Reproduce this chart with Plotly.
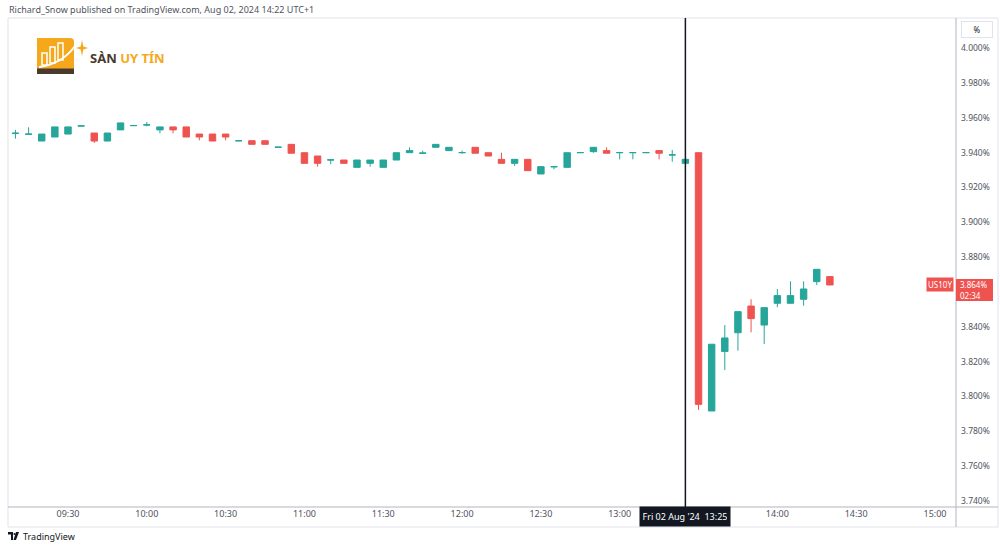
import plotly.graph_objects as go

# ---------------- data ----------------
times = ["09:10","09:15","09:20","09:25","09:30","09:35","09:40","09:45","09:50","09:55",
         "10:00","10:05","10:10","10:15","10:20","10:25","10:30","10:35","10:40","10:45",
         "10:50","10:55","11:00","11:05","11:10","11:15","11:20","11:25","11:30","11:35",
         "11:40","11:45","11:50","11:55","12:00","12:05","12:10","12:15","12:20","12:25",
         "12:30","12:35","12:40","12:45","12:50","12:55","13:00","13:05","13:10","13:15",
         "13:20","13:25","13:30","13:35","13:40","13:45","13:50","13:55","14:00","14:05",
         "14:10","14:15","14:20"]
opens = [3.9510,3.9505,3.9466,3.9489,3.9506,3.9552,3.9512,3.9466,3.9530,3.9554,
         3.9558,3.9530,3.9547,3.9547,3.9506,3.9506,3.9506,3.9467,3.9468,3.9468,
         3.9430,3.9447,3.9399,3.9380,3.9357,3.9357,3.9315,3.9338,3.9315,3.9357,
         3.9399,3.9396,3.9430,3.9411,3.9399,3.9430,3.9399,3.9361,3.9338,3.9361,
         3.9277,3.9318,3.9315,3.9399,3.9405,3.9411,3.9399,3.9399,3.9399,3.9411,
         3.9386,3.9338,3.9399,3.7917,3.8259,3.8366,3.8519,3.8410,3.8535,3.8535,
         3.8558,3.8659,3.8688]
highs = [3.9530,3.9545,3.9506,3.9547,3.9547,3.9553,3.9512,3.9512,3.9570,3.9555,
         3.9575,3.9547,3.9547,3.9547,3.9506,3.9506,3.9506,3.9468,3.9468,3.9468,
         3.9431,3.9447,3.9399,3.9380,3.9362,3.9357,3.9357,3.9357,3.9357,3.9399,
         3.9430,3.9411,3.9447,3.9430,3.9411,3.9430,3.9399,3.9399,3.9361,3.9361,
         3.9319,3.9319,3.9399,3.9400,3.9430,3.9430,3.9400,3.9400,3.9400,3.9411,
         3.9415,3.9361,3.9399,3.8300,3.8410,3.8487,3.8558,3.8510,3.8617,3.8661,
         3.8661,3.8730,3.8688]
lows = [3.9480,3.9505,3.9466,3.9489,3.9506,3.9552,3.9455,3.9466,3.9530,3.9554,
        3.9550,3.9510,3.9510,3.9489,3.9470,3.9466,3.9470,3.9467,3.9447,3.9447,
        3.9430,3.9396,3.9338,3.9319,3.9333,3.9338,3.9315,3.9319,3.9315,3.9357,
        3.9399,3.9396,3.9430,3.9411,3.9393,3.9396,3.9380,3.9338,3.9323,3.9296,
        3.9277,3.9304,3.9315,3.9399,3.9399,3.9396,3.9361,3.9361,3.9399,3.9361,
        3.9347,3.9338,3.7923,3.7917,3.8152,3.8263,3.8368,3.8301,3.8512,3.8535,
        3.8521,3.8640,3.8640]
closes = [3.9511,3.9506,3.9506,3.9547,3.9547,3.9553,3.9466,3.9512,3.9570,3.9555,
          3.9559,3.9547,3.9530,3.9489,3.9489,3.9466,3.9489,3.9468,3.9447,3.9447,
          3.9431,3.9396,3.9338,3.9338,3.9358,3.9338,3.9357,3.9357,3.9357,3.9399,
          3.9411,3.9397,3.9447,3.9430,3.9400,3.9396,3.9380,3.9338,3.9361,3.9296,
          3.9319,3.9319,3.9399,3.9400,3.9430,3.9396,3.9400,3.9400,3.9400,3.9396,
          3.9387,3.9361,3.7955,3.8300,3.8336,3.8487,3.8447,3.8510,3.8579,3.8579,
          3.8617,3.8730,3.8640]

# 3.860% is hidden behind the last-price label in the reference
ytick_vals = [3.74,3.76,3.78,3.80,3.82,3.84,3.88,3.90,3.92,3.94,3.96,3.98,4.00]
xtick_times = ["09:30","10:00","10:30","11:00","11:30","12:00","12:30","13:00","14:00","14:30","15:00"]
last_price = 3.864
crosshair_time = "13:25"

DAY = "2024-08-02 "
xs = [DAY + t for t in times]

UP = "#26a69a"
DOWN = "#ef5350"

W, H = 1000, 549
L, R, T, B = 8, 44, 18, 42
PW, PH = W - L - R, H - T - B


def px(xp):
    return (xp - L) / PW


def py(yp):
    return 1 - (yp - T) / PH


fig = go.Figure()
fig.add_trace(go.Candlestick(
    x=xs, open=opens, high=highs, low=lows, close=closes,
    increasing=dict(line=dict(color=UP, width=1), fillcolor=UP),
    decreasing=dict(line=dict(color=DOWN, width=1), fillcolor=DOWN),
    whiskerwidth=0, showlegend=False, hoverinfo="skip",
))

shapes = []
# outer frame
shapes.append(dict(type="rect", xref="paper", yref="paper", x0=px(8), x1=px(998), y0=py(527), y1=py(18),
                   line=dict(color="#e0e3eb", width=1), fillcolor="rgba(0,0,0,0)", layer="below"))
# right axis separator and bottom axis line
shapes.append(dict(type="line", xref="paper", yref="paper", x0=1, x1=1, y0=py(527), y1=py(18),
                   line=dict(color="#b2b5be", width=1)))
shapes.append(dict(type="line", xref="paper", yref="paper", x0=0, x1=px(998), y0=0, y1=0,
                   line=dict(color="#b2b5be", width=1)))
# crosshair
shapes.append(dict(type="line", xref="x", yref="paper", x0=DAY + crosshair_time, x1=DAY + crosshair_time,
                   y0=0, y1=1, line=dict(color="#131722", width=1.5)))

# logo icon: orange square with rounded top-right corner
shapes.append(dict(type="path", xref="paper", yref="paper",
                   path=(f"M {px(37)},{py(74)} L {px(37)},{py(38)} L {px(70)},{py(38)} "
                         f"Q {px(74)},{py(38)} {px(74)},{py(42)} L {px(74)},{py(74)} Z"),
                   fillcolor="#F6A81C", line=dict(width=0)))
# brown base strip
shapes.append(dict(type="rect", xref="paper", yref="paper", x0=px(37), x1=px(74), y0=py(74), y1=py(68.5),
                   fillcolor="#4A3A2E", line=dict(width=0)))
# white swoosh
shapes.append(dict(type="path", xref="paper", yref="paper",
                   path=f"M {px(39)},{py(67)} Q {px(62)},{py(64)} {px(75)},{py(46)}",
                   line=dict(color="white", width=2)))
for (bx0, bx1, by0, by1) in [(42, 47, 53, 65), (50, 55, 47, 63), (58, 63, 43, 60)]:
    shapes.append(dict(type="rect", xref="paper", yref="paper", x0=px(bx0), x1=px(bx1), y0=py(by1), y1=py(by0),
                       fillcolor="rgba(0,0,0,0)", line=dict(color="white", width=1.5)))
# sparkle
shapes.append(dict(type="path", xref="paper", yref="paper",
                   path=(f"M {px(82)},{py(40)} L {px(83.3)},{py(46.5)} L {px(88)},{py(48)} L {px(83.3)},{py(49.5)} "
                         f"L {px(82)},{py(56)} L {px(80.7)},{py(49.5)} L {px(76)},{py(48)} L {px(80.7)},{py(46.5)} Z"),
                   fillcolor="#F6A81C", line=dict(width=0)))
# TradingView mini logo
shapes.append(dict(type="path", xref="paper", yref="paper",
                   path=f"M {px(8)},{py(532)} L {px(13)},{py(532)} L {px(13)},{py(540)} L {px(11)},{py(540)} L {px(11)},{py(534.5)} L {px(8)},{py(534.5)} Z",
                   fillcolor="#131722", line=dict(width=0)))
shapes.append(dict(type="circle", xref="paper", yref="paper", x0=px(13.5), x1=px(15.5), y0=py(535), y1=py(533),
                   fillcolor="#131722", line=dict(width=0)))
shapes.append(dict(type="path", xref="paper", yref="paper",
                   path=f"M {px(16)},{py(532)} L {px(19)},{py(532)} L {px(16)},{py(540)} L {px(13.5)},{py(540)} Z",
                   fillcolor="#131722", line=dict(width=0)))
# price label box (red)
shapes.append(dict(type="rect", xref="paper", yref="paper", x0=px(956), x1=px(993), y0=py(301), y1=py(279),
                   fillcolor=DOWN, line=dict(width=0)))

ann = []
FONT = "Noto Sans"
ann.append(dict(xref="paper", yref="paper", x=px(7), y=py(9), xanchor="left", yanchor="middle",
                text="Richard_Snow published on TradingView.com, Aug 02, 2024 14:22 UTC+1",
                showarrow=False, font=dict(family=FONT, size=9, color="#50535e")))
ann.append(dict(xref="paper", yref="paper", x=px(88), y=py(58), xanchor="left", yanchor="middle",
                text="<b><span style='color:#4A3A2E'>SÀN</span> <span style='color:#F6A81C'>UY TÍN</span></b>",
                showarrow=False, font=dict(family=FONT, size=13)))
ann.append(dict(xref="paper", yref="paper", x=px(21), y=py(536), xanchor="left", yanchor="middle",
                text="TradingView", showarrow=False, font=dict(family=FONT, size=9, color="#131722")))
# % box
ann.append(dict(xref="paper", yref="paper", x=px(977), y=py(30), xanchor="center", yanchor="middle",
                text="%", showarrow=False, font=dict(family=FONT, size=8, color="#131722"),
                bordercolor="#e0e3eb", borderwidth=1, borderpad=2, width=26, bgcolor="white"))
# crosshair x label
ann.append(dict(xref="x", yref="paper", x=DAY + crosshair_time, y=py(516.5), xanchor="center", yanchor="middle",
                text="Fri 02 Aug '24  13:25", showarrow=False, font=dict(family=FONT, size=9, color="white"),
                bgcolor="#131722", borderpad=3, width=84))
# price label texts
ann.append(dict(xref="paper", yref="paper", x=px(959), y=py(284.5), xanchor="left", yanchor="middle",
                text="3.864%", showarrow=False, borderpad=0, font=dict(family=FONT, size=8, color="white")))
ann.append(dict(xref="paper", yref="paper", x=px(959), y=py(295.5), xanchor="left", yanchor="middle",
                text="02:34", showarrow=False, borderpad=0, font=dict(family=FONT, size=8, color="white")))
ann.append(dict(xref="paper", yref="y", x=px(954), y=last_price, xanchor="right", yanchor="middle",
                text="US10Y", showarrow=False, font=dict(family=FONT, size=8, color="white"),
                bgcolor=DOWN, borderpad=1))

fig.update_layout(
    width=W, height=H,
    margin=dict(l=L, r=R, t=T, b=B),
    paper_bgcolor="white", plot_bgcolor="white",
    shapes=shapes, annotations=ann,
    xaxis=dict(
        type="date",
        range=[DAY + "09:07:10", DAY + "15:08:00"],
        rangeslider=dict(visible=False),
        showgrid=False, zeroline=False, showline=False,
        tickvals=[DAY + t for t in xtick_times], ticktext=xtick_times,
        ticks="", tickfont=dict(family=FONT, size=9, color="#50535e"),
    ),
    yaxis=dict(
        side="right", range=[3.7366, 4.0172],
        showgrid=False, zeroline=False, showline=False,
        tickvals=ytick_vals, ticktext=[f"{v:.3f}%" for v in ytick_vals],
        ticks="", ticklabelstandoff=4, tickfont=dict(family=FONT, size=8.5, color="#50535e"),
    ),
)

fig.write_html("out.html")
